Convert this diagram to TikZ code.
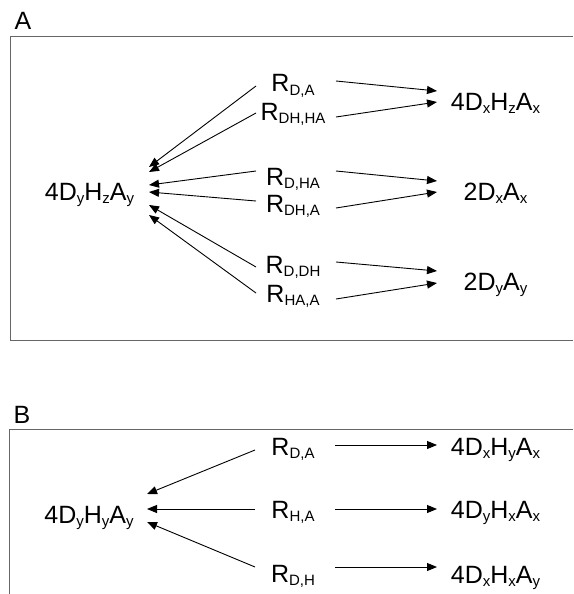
\documentclass[tikz,border=0pt]{standalone}
\usepackage{fontspec}
\setmainfont{Liberation Sans}
\usetikzlibrary{arrows.meta,calc}
\newcommand\subs[1]{\raisebox{-3.5pt}{\fontsize{15}{15}\selectfont #1}}
\begin{document}
\begin{tikzpicture}[x=1pt,y=-1pt,
  lbl/.style={anchor=base,inner sep=0pt,font=\fontsize{25}{30}\selectfont},
  arr/.style={-{Triangle[length=10pt,width=8pt]},line width=0.9pt},
  frame/.style={draw=black!60,line width=1pt}]
\useasboundingbox (0,0) rectangle (573,594);
% frames
\draw[frame] (573,37) -- (10,37) -- (10,340) -- (573,340);
\draw[frame] (573,429) -- (9,429) -- (9,594);
% panel labels
\node[lbl] (pa) at (23,30) {A};
\node[lbl] (pb) at (22,423) {B};
% panel A
\node[lbl] (L) at (89.5,200) {4D\subs{y}H\subs{z}A\subs{y}};
\node[lbl] (r1) at (293,92) {R\subs{D,A}};
\node[lbl] (r2) at (293,120) {R\subs{DH,HA}};
\node[lbl] (r3) at (293,185) {R\subs{D,HA}};
\node[lbl] (r4) at (293,212) {R\subs{DH,A}};
\node[lbl] (r5) at (293,273) {R\subs{D,DH}};
\node[lbl] (r6) at (293,302) {R\subs{HA,A}};
\node[lbl] (p1) at (495.5,110) {4D\subs{x}H\subs{z}A\subs{x}};
\node[lbl] (p2) at (495.5,200) {2D\subs{x}A\subs{x}};
\node[lbl] (p3) at (495.5,290) {2D\subs{y}A\subs{y}};
% left arrows A
\draw[arr] ($(r1.base)+(-37,-6)$) -- ($(L.base)+(59.5,-33)$);
\draw[arr] ($(r2.base)+(-37,-7)$) -- ($(L.base)+(59.5,-28)$);
\draw[arr] ($(r3.base)+(-37,-14)$) -- ($(L.base)+(59.5,-15)$);
\draw[arr] ($(r4.base)+(-37,-11)$) -- ($(L.base)+(59.5,-8)$);
\draw[arr] ($(r5.base)+(-37,-6)$) -- ($(L.base)+(59.5,5)$);
\draw[arr] ($(r6.base)+(-37,-9)$) -- ($(L.base)+(59.5,15)$);
% right arrows A
\draw[arr] ($(r1.base)+(43,-11)$) -- ($(p1.base)+(-58.5,-19)$);
\draw[arr] ($(r2.base)+(43,-3)$) -- ($(p1.base)+(-58.5,-8)$);
\draw[arr] ($(r3.base)+(43,-14)$) -- ($(p2.base)+(-58.5,-19)$);
\draw[arr] ($(r4.base)+(43,-4)$) -- ($(p2.base)+(-58.5,-8)$);
\draw[arr] ($(r5.base)+(43,-11)$) -- ($(p3.base)+(-58.5,-19)$);
\draw[arr] ($(r6.base)+(43,-3)$) -- ($(p3.base)+(-58.5,-7)$);
% panel B
\node[lbl] (L2) at (89,523) {4D\subs{y}H\subs{y}A\subs{y}};
\node[lbl] (s1) at (293,455) {R\subs{D,A}};
\node[lbl] (s2) at (293,518) {R\subs{H,A}};
\node[lbl] (s3) at (293,582) {R\subs{D,H}};
\node[lbl] (q1) at (495.5,455) {4D\subs{x}H\subs{y}A\subs{x}};
\node[lbl] (q2) at (495.5,518) {4D\subs{y}H\subs{x}A\subs{x}};
\node[lbl] (q3) at (495.5,583) {4D\subs{x}H\subs{x}A\subs{y}};
\draw[arr] ($(s1.base)+(-38,-5)$) -- ($(L2.base)+(58,-29)$);
\draw[arr] ($(s2.base)+(-38,-9)$) -- ($(L2.base)+(58,-14)$);
\draw[arr] ($(s3.base)+(-38,-15)$) -- ($(L2.base)+(58,-1)$);
\draw[arr] ($(s1.base)+(42,-10)$) -- ($(q1.base)+(-58.5,-10)$);
\draw[arr] ($(s2.base)+(42,-9)$) -- ($(q2.base)+(-58.5,-9)$);
\draw[arr] ($(s3.base)+(42,-15)$) -- ($(q3.base)+(-58.5,-16)$);
\end{tikzpicture}
\end{document}
